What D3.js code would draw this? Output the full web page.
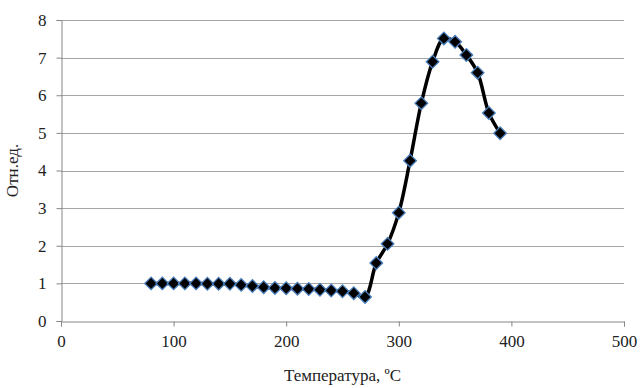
<!DOCTYPE html>
<html>
<head>
<meta charset="utf-8">
<script src="https://cdn.jsdelivr.net/npm/d3@7"></script>
<style>
  body { margin: 0; background: #fff; }
  svg text { font-family: "Times New Roman", "Liberation Serif", Tinos, "DejaVu Serif", serif; }
</style>
</head>
<body>
<div id="chart"></div>
<script>
// temperature, deg C
var temps = [80, 90, 100, 110, 120, 130, 140, 150, 160, 170, 180, 190, 200, 210, 220, 230,
             240, 250, 260, 270, 280, 290, 300, 310, 320, 330, 340, 350, 360, 370, 380, 390];
// relative units
var values = [1.0, 1.0, 1.0, 1.0, 1.0, 0.99, 0.99, 0.99, 0.96, 0.93, 0.9, 0.88, 0.87, 0.86, 0.85, 0.83,
              0.81, 0.79, 0.74, 0.64, 1.54, 2.05, 2.88, 4.26, 5.79, 6.89, 7.51, 7.42, 7.07, 6.6, 5.53, 4.99];
var xTicks = [0, 100, 200, 300, 400, 500];
var yTicks = [0, 1, 2, 3, 4, 5, 6, 7, 8];

var FONT = "Liberation Serif";

var W = 641, H = 388;
var margin = { top: 20, right: 17, bottom: 67, left: 61 },
    width = W - margin.left - margin.right,
    height = H - margin.top - margin.bottom;

var svg = d3.select("#chart")
    .append("svg")
    .attr("width", W)
    .attr("height", H)
    .attr("font-family", FONT)
    .append("g")
    .attr("transform", "translate(" + margin.left + "," + margin.top + ")");

var x = d3.scaleLinear().domain([0, 500]).range([0, width]);
var y = d3.scaleLinear().domain([0, 8]).range([height, 0]);

// gridlines
svg.selectAll(".grid")
    .data(yTicks.slice(1))
    .enter()
    .append("line")
    .attr("x1", 0)
    .attr("x2", width)
    .attr("y1", function (d) { return Math.round(y(d)) + 0.5; })
    .attr("y2", function (d) { return Math.round(y(d)) + 0.5; })
    .attr("stroke", "#a6a6a6")
    .attr("stroke-width", 1);

// X axis
var gx = svg.append("g")
    .attr("transform", "translate(0," + (Math.round(height) + 0.5) + ")")
    .call(d3.axisBottom(x).tickValues(xTicks).tickSize(5).tickPadding(8))
    .attr("font-family", FONT)
    .attr("font-size", 17);

// Y axis
var gy = svg.append("g")
    .attr("transform", "translate(0.5,0)")
    .call(d3.axisLeft(y).tickValues(yTicks).tickSize(5).tickPadding(10))
    .attr("font-family", FONT)
    .attr("font-size", 17);

svg.selectAll(".domain, .tick line").attr("stroke", "#868686");
svg.selectAll(".tick text").attr("fill", "#222");

// line
var line = d3.line()
    .x(function (d, i) { return x(temps[i]); })
    .y(function (d) { return y(d); })
    .curve(d3.curveCatmullRom.alpha(0.5));

svg.append("path")
    .datum(values)
    .attr("d", line)
    .attr("fill", "none")
    .attr("stroke", "#000")
    .attr("stroke-width", 3.5);

// markers
svg.selectAll(".pt")
    .data(values)
    .enter()
    .append("path")
    .attr("d", d3.symbol().type(d3.symbolSquare).size(80))
    .attr("transform", function (d, i) { return "translate(" + x(temps[i]) + "," + y(d) + ") rotate(45)"; })
    .attr("fill", "#000")
    .attr("stroke", "#4a7ebb")
    .attr("stroke-width", 1.3);

// axis titles
svg.append("text")
    .attr("x", width / 2)
    .attr("y", height + 60)
    .attr("text-anchor", "middle")
    .attr("fill", "#222")
    .attr("font-size", 17)
    .text("Температура, ºC");

svg.append("text")
    .attr("transform", "translate(" + (-43) + "," + (height / 2) + ") rotate(-90)")
    .attr("text-anchor", "middle")
    .attr("fill", "#222")
    .attr("font-size", 17)
    .text("Отн.ед.");
</script>
</body>
</html>
